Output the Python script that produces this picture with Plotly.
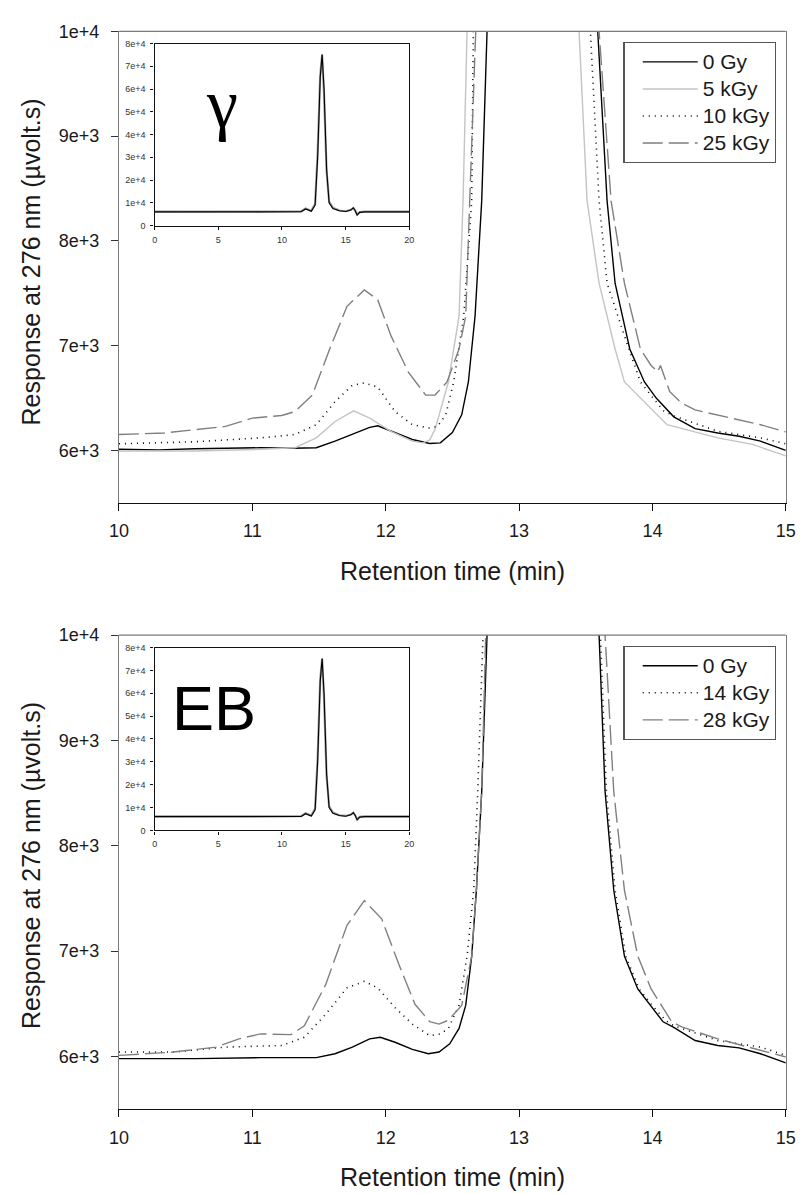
import plotly.graph_objects as go

# ---------------- data ----------------
# Top panel (gamma irradiation)
g0_t = [10.00, 10.30, 10.57, 11.06, 11.30, 11.48, 11.62, 11.75, 11.88, 11.94, 12.04, 12.20, 12.33, 12.41,
        12.50, 12.57, 12.62, 12.67, 12.72, 12.76, 13.15, 13.59, 13.66, 13.72, 13.83, 13.94, 14.03, 14.16,
        14.32, 14.49, 14.65, 14.81, 15.00]
g0_v = [6010, 6005, 6016, 6025, 6020, 6025, 6088, 6151, 6220, 6235, 6182, 6104, 6066, 6072,
        6170, 6339, 6653, 7282, 8382, 10000, 75000, 10000, 8382, 7596, 6968, 6653, 6497, 6320,
        6207, 6166, 6135, 6088, 6000]

g5_t = [10.00, 10.57, 11.06, 11.32, 11.48, 11.62, 11.76, 11.88, 12.04, 12.20, 12.28, 12.33, 12.37, 12.40,
        12.47, 12.55, 12.58, 12.61, 13.10, 13.45, 13.51, 13.60, 13.72, 13.79, 13.91, 14.11, 14.16,
        14.49, 14.75, 15.00]
g5_v = [5994, 5994, 6010, 6025, 6119, 6276, 6377, 6308, 6182, 6088, 6072, 6100, 6200, 6339,
        6653, 7282, 8382, 10000, 75000, 10000, 8382, 7596, 6968, 6653, 6497, 6245, 6229,
        6119, 6057, 5947]

g10_t = [10.00, 10.57, 11.06, 11.32, 11.48, 11.62, 11.75, 11.84, 11.94, 12.07, 12.20, 12.33, 12.39, 12.45,
         12.51, 12.585, 12.645, 12.675, 13.15, 13.535, 13.60, 13.66, 13.79, 13.91, 14.08, 14.16, 14.49,
         14.81, 15.00]
g10_v = [6063, 6082, 6119, 6151, 6245, 6465, 6622, 6644, 6606, 6370, 6245, 6213, 6230, 6339,
         6653, 7282, 8382, 10000, 75000, 10000, 8382, 7596, 7093, 6653, 6380, 6330, 6182,
         6119, 6063]

g25_t = [10.00, 10.34, 10.80, 11.00, 11.22, 11.32, 11.45, 11.58, 11.71, 11.84, 11.94, 12.04, 12.17, 12.30,
         12.37, 12.46, 12.55, 12.60, 12.63, 12.675, 13.15, 13.60, 13.69, 13.79, 13.91, 13.99, 14.04, 14.06,
         14.13, 14.22, 14.32, 14.49, 14.81, 15.00]
g25_v = [6151, 6166, 6229, 6308, 6333, 6370, 6527, 6967, 7375, 7532, 7438, 7093, 6747, 6527,
         6528, 6653, 6968, 7282, 8382, 10000, 75000, 10000, 8382, 7596, 6968, 6811, 6750, 6810,
         6560, 6450, 6386, 6339, 6245, 6176]

# Bottom panel (electron beam)
e0_t = [10.00, 10.57, 11.06, 11.48, 11.62, 11.75, 11.88, 11.96, 12.07, 12.20, 12.32, 12.40, 12.48, 12.55,
        12.60, 12.645, 12.68, 12.72, 12.76, 13.15, 13.60, 13.645, 13.71, 13.79, 13.89, 14.00, 14.08, 14.16,
        14.32, 14.49, 14.65, 14.81, 15.00]
e0_v = [5978, 5978, 5988, 5988, 6025, 6088, 6166, 6181, 6134, 6066, 6025, 6041, 6119, 6265,
        6484, 6952, 7577, 8514, 10000, 75000, 10000, 8514, 7577, 6952, 6640, 6463, 6328, 6275,
        6150, 6103, 6081, 6025, 5938]

e14_t = [10.00, 10.41, 10.80, 11.22, 11.39, 11.55, 11.71, 11.84, 11.94, 12.07, 12.20, 12.33, 12.41, 12.47,
         12.55, 12.61, 12.66, 12.69, 12.73, 13.15, 13.61, 13.655, 13.72, 13.80, 13.90, 14.00, 14.10, 14.16,
         14.49, 14.81, 15.00]
e14_v = [6041, 6041, 6088, 6103, 6181, 6400, 6650, 6713, 6650, 6463, 6306, 6197, 6213, 6265,
         6484, 6952, 7577, 8514, 10000, 75000, 10000, 8514, 7577, 6952, 6640, 6480, 6340, 6290,
         6150, 6088, 6009]

e28_t = [10.00, 10.41, 10.73, 10.90, 11.06, 11.29, 11.39, 11.55, 11.71, 11.84, 11.97, 12.10, 12.22, 12.33,
         12.40, 12.47, 12.57, 12.645, 12.68, 12.72, 12.75, 13.15, 13.645, 13.71, 13.79, 13.89, 13.99, 14.145,
         14.22, 14.49, 14.72, 15.00]
e28_v = [6009, 6041, 6088, 6166, 6213, 6206, 6290, 6681, 7244, 7478, 7306, 6869, 6494, 6330,
         6306, 6343, 6484, 6952, 7577, 8514, 10000, 75000, 10000, 8514, 7577, 6952, 6640, 6328,
         6280, 6166, 6088, 5994]

# Insets: full chromatogram 0-20 min
inset_t = [0, 5, 10, 11.5, 11.85, 12.3, 12.6, 12.8, 13.0, 13.15, 13.3, 13.5, 13.7, 14.0, 14.5, 15.0,
           15.4, 15.6, 15.75, 15.9, 16.1, 16.5, 20]
inset_a = [6000, 6000, 6000, 6050, 7300, 6300, 9000, 30000, 65000, 75300, 60000, 25000, 10000, 7500,
           6500, 6200, 6800, 7800, 6500, 4600, 5800, 6000, 6000]
inset_b = [6100, 6100, 6100, 6200, 7500, 6500, 9500, 32000, 66000, 75000, 58000, 24000, 10500, 7800,
           6600, 6300, 6900, 7700, 6600, 4800, 5900, 6100, 6100]

main_xticks = [10, 11, 12, 13, 14, 15]
main_yticks = [6000, 7000, 8000, 9000, 10000]
main_yticktext = ["6e+3", "7e+3", "8e+3", "9e+3", "1e+4"]
inset_xticks = [0, 5, 10, 15, 20]
inset_yticks = [0, 10000, 20000, 30000, 40000, 50000, 60000, 70000, 80000]
inset_yticktext = ["0", "1e+4", "2e+4", "3e+4", "4e+4", "5e+4", "6e+4", "7e+4", "8e+4"]

top_names = ["0 Gy", "5 kGy", "10 kGy", "25 kGy"]
bot_names = ["0 Gy", "14 kGy", "28 kGy"]

# ---------------- figure ----------------
W, H = 808, 1194
FONT = "Liberation Sans, Arial, sans-serif"
DOT = "1px,5px"
DASH = "20px,6px"

def px(v):  # pixel from left -> paper fraction
    return v / W

def py(v):  # pixel from top -> paper fraction
    return 1 - v / H

def legend_label(s):
    return '<span style="font-size:21px">' + s + '</span>'

fig = go.Figure()

styles_top = [
    dict(color="#000000", width=1.4, dash="solid"),
    dict(color="#c4c4c4", width=1.4, dash="solid"),
    dict(color="#000000", width=1.6, dash=DOT),
    dict(color="#7f7f7f", width=1.4, dash=DASH),
]
for name, t, v, st in zip(top_names, [g0_t, g5_t, g10_t, g25_t], [g0_v, g5_v, g10_v, g25_v], styles_top):
    fig.add_trace(go.Scatter(x=t, y=v, mode="lines", name=legend_label(name), line=st, xaxis="x", yaxis="y",
                             legend="legend", hoverinfo="skip"))

styles_bot = [
    dict(color="#000000", width=1.4, dash="solid"),
    dict(color="#000000", width=1.6, dash=DOT),
    dict(color="#808080", width=1.4, dash=DASH),
]
for name, t, v, st in zip(bot_names, [e0_t, e14_t, e28_t], [e0_v, e14_v, e28_v], styles_bot):
    fig.add_trace(go.Scatter(x=t, y=v, mode="lines", name=legend_label(name), line=st, xaxis="x2", yaxis="y2",
                             legend="legend2", hoverinfo="skip"))

# insets
for xa, ya in [("x3", "y3"), ("x4", "y4")]:
    fig.add_trace(go.Scatter(x=inset_t, y=inset_b, mode="lines", line=dict(color="#9a9a9a", width=2.2),
                             xaxis=xa, yaxis=ya, showlegend=False, hoverinfo="skip"))
    fig.add_trace(go.Scatter(x=inset_t, y=inset_a, mode="lines", line=dict(color="#000000", width=1.1),
                             xaxis=xa, yaxis=ya, showlegend=False, hoverinfo="skip"))

# domains
top_main_y = [py(499), py(21.7)]
bot_main_y = [py(1113), py(633)]
main_x = [px(111.7), px(795.5)]
top_in_y = [py(218.3), py(34)]
bot_in_y = [py(830.8), py(645.7)]
in_x = [px(148.3), px(409.5)]

def main_xaxis(domain, anchor):
    return dict(domain=domain, anchor=anchor, range=[10, 15], tickvals=main_xticks,
                showline=True, linecolor="#111111", linewidth=1.3, mirror=False,
                ticks="outside", ticklen=7, tickwidth=1.2, tickcolor="#111111",
                ticklabelstandoff=5,
                tickfont=dict(size=18, family=FONT, color="#1a1a1a"),
                showgrid=False, zeroline=False, fixedrange=True)

def main_yaxis(domain, anchor):
    return dict(domain=domain, anchor=anchor, range=[5500, 10000], tickvals=main_yticks,
                ticktext=main_yticktext,
                showline=True, linecolor="#7a7a7a", linewidth=1.3, mirror=True,
                ticks="outside", ticklen=7, tickwidth=1.2, tickcolor="#333333",
                ticklabelstandoff=8,
                tickfont=dict(size=18, family=FONT, color="#1a1a1a"),
                showgrid=False, zeroline=False, fixedrange=True)

def inset_xaxis(domain, anchor):
    return dict(domain=domain, anchor=anchor, range=[0, 20], tickvals=inset_xticks,
                showline=True, linecolor="#111111", linewidth=1.4, mirror=True,
                ticks="outside", ticklen=3, tickwidth=1, tickcolor="#111111",
                ticklabelstandoff=2,
                tickfont=dict(size=9, family=FONT, color="#333333"),
                showgrid=False, zeroline=False, fixedrange=True)

def inset_yaxis(domain, anchor):
    return dict(domain=domain, anchor=anchor, range=[0, 80000], tickvals=inset_yticks,
                ticktext=inset_yticktext,
                showline=True, linecolor="#111111", linewidth=1.4, mirror=True,
                ticks="outside", ticklen=3, tickwidth=1, tickcolor="#111111",
                ticklabelstandoff=3,
                tickfont=dict(size=9, family=FONT, color="#333333"),
                showgrid=False, zeroline=False, fixedrange=True)

legend_common = dict(xanchor="left", yanchor="top", bgcolor="white", bordercolor="#555555",
                     borderwidth=1.3, font=dict(size=18.5, family=FONT, color="#1a1a1a"),
                     itemwidth=55, tracegroupgap=0, indentation=13)

fig.update_layout(
    width=W, height=H,
    margin=dict(l=0, r=0, t=0, b=0),
    paper_bgcolor="white", plot_bgcolor="white",
    font=dict(family=FONT, color="#1a1a1a"),
    xaxis=main_xaxis(main_x, "y"),
    yaxis=main_yaxis(top_main_y, "x"),
    xaxis2=main_xaxis(main_x, "y2"),
    yaxis2=main_yaxis(bot_main_y, "x2"),
    xaxis3=inset_xaxis(in_x, "y3"),
    yaxis3=inset_yaxis(top_in_y, "x3"),
    xaxis4=inset_xaxis(in_x, "y4"),
    yaxis4=inset_yaxis(bot_in_y, "x4"),
    legend=dict(x=px(629), y=py(32.5), **legend_common),
    legend2=dict(x=px(629), y=py(644), **legend_common),
    showlegend=True,
)

# top border of the main panels (gray frame line)
for xr, yr in [("x domain", "y domain"), ("x2 domain", "y2 domain")]:
    fig.add_shape(type="line", xref=xr, yref=yr, x0=0, x1=1, y0=1, y1=1,
                  line=dict(color="#7a7a7a", width=1.3), layer="above")

ann = []
# axis titles
for yc, xc in [(568, 453.6), (1182, 453.6)]:
    ann.append(dict(text="Retention time (min)", x=px(xc), y=py(yc), xref="paper", yref="paper",
                    xanchor="center", yanchor="middle", showarrow=False,
                    font=dict(size=25, family=FONT, color="#1a1a1a")))
for yc in [255.5, 866.8]:
    ann.append(dict(text="Response at 276 nm (µvolt.s)", x=px(21.7), y=py(yc), xref="paper", yref="paper",
                    xanchor="center", yanchor="middle", showarrow=False, textangle=-90,
                    font=dict(size=25, family=FONT, color="#1a1a1a")))
# panel labels
ann.append(dict(text="γ", x=px(217), y=py(95), xref="paper", yref="paper", xanchor="center",
                yanchor="middle", showarrow=False,
                font=dict(size=70, family="Liberation Serif, Times New Roman, serif", color="#000000")))
ann.append(dict(text="EB", x=px(209.5), y=py(706.5), xref="paper", yref="paper", xanchor="center",
                yanchor="middle", showarrow=False, font=dict(size=63, family=FONT, color="#000000")))
fig.update_layout(annotations=ann)

# remove the browser's default 8px page margin so the 808x1194 figure fills the window exactly
fig.write_html("out.html", config={"displayModeBar": False},
               post_script="document.body.style.margin='0px';")
